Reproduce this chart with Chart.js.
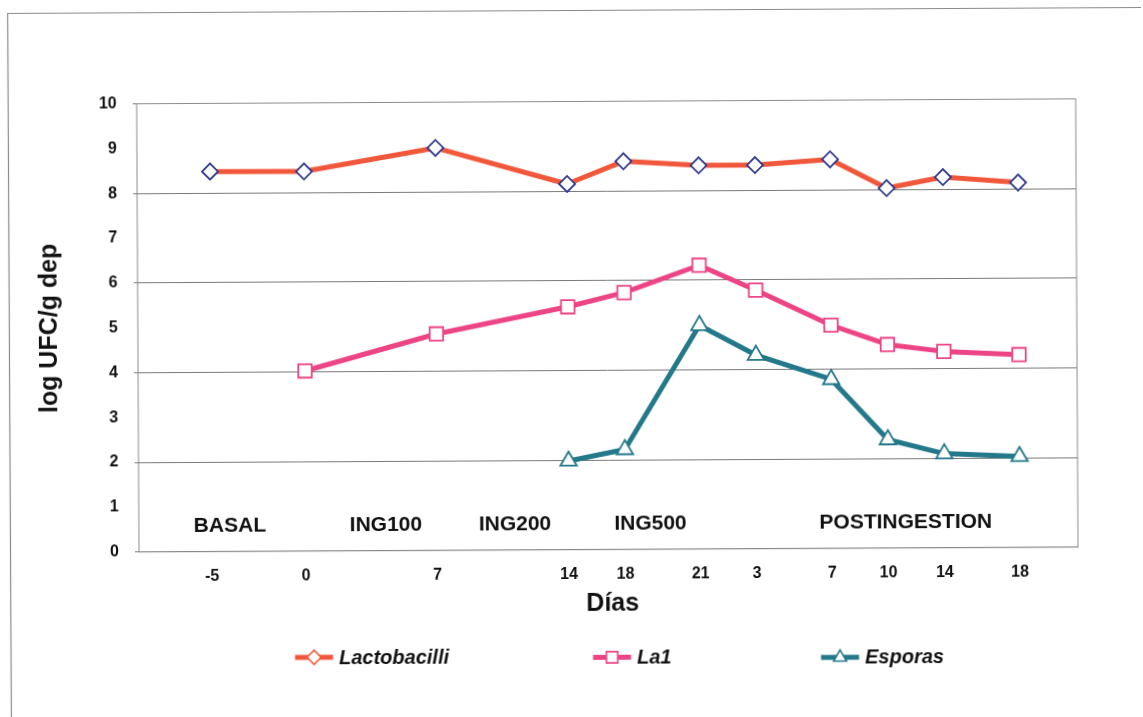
<!DOCTYPE html>
<html><head><meta charset="utf-8">
<script src="https://cdn.jsdelivr.net/npm/chart.js@4/dist/chart.umd.min.js"></script>
<style>
html,body{margin:0;padding:0;background:#fff;overflow:hidden;}
#wrap{width:1143px;height:717px;position:relative;overflow:hidden;background:#fff;}
canvas{display:block;transform:rotate(-0.3deg);transform-origin:50% 50%;}
</style></head><body>
<div id="wrap"><canvas id="c" width="1143" height="717"></canvas></div>
<script>
// ---- data ----
const dayLabels = ['-5','0','7','14','18','21','3','7','10','14','18'];
const dayAxisPos = [0,5,12,19,22,26,29,33,36,39,43];
const lactobacilli = [8.48,8.47,8.98,8.16,8.66,8.56,8.56,8.68,8.03,8.27,8.14];
const la1 = [null,4.02,4.83,5.42,5.73,6.33,5.77,4.98,4.54,4.38,4.30];
const esporas = [null,null,null,1.98,2.23,4.99,4.32,3.77,2.42,2.10,2.03];
const phaseNames = ['BASAL','ING100','ING200','ING500','POSTINGESTION'];
const seriesNames = ['Lactobacilli','La1','Esporas'];

const FONT = "'Liberation Sans', Arial, Helvetica, sans-serif";
const toPts = arr => arr.map((v,i)=>({x:dayAxisPos[i], y:v}));

const COL_LAC = '#F1573B', COL_LAC_PT = '#2E3A8F';
const COL_LA1 = '#EC4485';
const COL_ESP = '#23798A';

const deco = {
  id:'deco',
  beforeDraw(chart){
    const c = chart.ctx;
    c.save();
    c.fillStyle = '#fff';
    c.fillRect(0,0,chart.width,chart.height);
    c.strokeStyle = '#8a8a8a';
    c.lineWidth = 1.2;
    c.beginPath();
    c.moveTo(1160,10.5); c.lineTo(9.5,10.5); c.lineTo(9.5,740);
    c.stroke();
    c.restore();
  },
  beforeDatasetsDraw(chart){
    const c = chart.ctx, a = chart.chartArea;
    c.save();
    c.strokeStyle = '#8c8c8c';
    c.lineWidth = 1;
    c.strokeRect(a.left, a.top, a.right-a.left, a.bottom-a.top);
    c.restore();
  },
  afterDraw(chart, args, opts){
    const c = chart.ctx, a = chart.chartArea, xs = chart.scales.x, ys = chart.scales.y;
    c.save();
    c.fillStyle = '#111';
    // phase labels
    c.font = "bold 21px " + FONT;
    c.textAlign = 'center'; c.textBaseline = 'middle';
    phaseNames.forEach((n,i)=>{
      c.fillText(n, xs.getPixelForValue(opts.phaseAnchor[i]), ys.getPixelForValue(opts.phaseLevel));
    });
    // x title
    c.font = "bold 25px " + FONT;
    c.fillText('Días', (a.left+a.right)/2 + 4, 604);
    // y title
    c.save();
    c.translate(50, (a.top+a.bottom)/2);
    c.rotate(-Math.PI/2);
    c.font = "bold 25px " + FONT;
    c.fillText('log UFC/g dep', 0, 0);
    c.restore();
    // legend
    opts.legend.forEach((it,i)=>{
      const ds = chart.data.datasets[i];
      const ly = it.y;
      c.strokeStyle = ds.borderColor;
      c.lineWidth = 5;
      c.beginPath(); c.moveTo(it.x, ly); c.lineTo(it.x+38, ly); c.stroke();
      c.fillStyle = '#fff';
      c.strokeStyle = ds.borderColor;
      c.lineWidth = 1.6;
      Chart.helpers.drawPoint(c, {pointStyle: ds.pointStyle, radius: it.r, rotation:0, borderWidth:1.6}, it.x+19, ly);
      c.fillStyle = '#111';
      c.font = "italic bold 20px " + FONT;
      c.textAlign = 'left'; c.textBaseline = 'middle';
      c.fillText(seriesNames[i], it.x+44, ly+1);
    });
    c.restore();
  }
};

new Chart(document.getElementById('c'), {
  type:'line',
  data:{
    datasets:[
      {label:seriesNames[0], data:toPts(lactobacilli), borderColor:COL_LAC, borderWidth:5,
       pointStyle:'rectRot', pointRadius:8, pointBorderColor:COL_LAC_PT, pointBackgroundColor:'#fff', pointBorderWidth:1.8,
       tension:0, borderJoinStyle:'round'},
      {label:seriesNames[1], data:toPts(la1), borderColor:COL_LA1, borderWidth:5,
       pointStyle:'rect', pointRadius:9.5, pointBorderColor:COL_LA1, pointBackgroundColor:'#fff', pointBorderWidth:1.8,
       tension:0, borderJoinStyle:'round'},
      {label:seriesNames[2], data:toPts(esporas), borderColor:COL_ESP, borderWidth:5,
       pointStyle:'triangle', pointRadius:9.5, pointBorderColor:COL_ESP, pointBackgroundColor:'#fff', pointBorderWidth:1.8,
       tension:0, borderJoinStyle:'round'}
    ]
  },
  options:{
    responsive:false, animation:false,
    layout:{padding:{top:101.5, right:66, left:0, bottom:0}},
    plugins:{
      legend:{display:false}, tooltip:{enabled:false}, title:{display:false},
      deco:{
        phaseAnchor:[0.96, 9.26, 16.13, 23.34, 36.93],
        phaseLevel:0.57,
        legend:[{x:293.5, y:656, r:7},{x:591.5, y:657.5, r:8},{x:819.5, y:658.8, r:7.5}]
      }
    },
    scales:{
      x:{type:'linear', min:-3.885, max:46.087,
         afterBuildTicks: s => { s.ticks = dayAxisPos.map(v=>({value:v})); },
         afterFit: s => { s.height = 167.3; },
         ticks:{autoSkip:false, maxRotation:0, padding:15, color:'#111',
                font:{family:FONT, size:16, weight:'bold'},
                callback:(v,i)=>dayLabels[i]},
         grid:{display:false, drawTicks:false}, border:{display:false}},
      y:{min:0, max:10,
         afterFit: s => { s.width = 138; },
         ticks:{stepSize:1, padding:16, color:'#111', font:{family:FONT, size:16, weight:'bold'}},
         grid:{color: ctx => (ctx.tick && ctx.tick.value % 2 === 0) ? '#7a7a7a' : 'rgba(0,0,0,0)', lineWidth:1, drawTicks:true, tickLength:4},
         border:{display:false}}
    }
  },
  plugins:[deco]
});
</script>
</body></html>
